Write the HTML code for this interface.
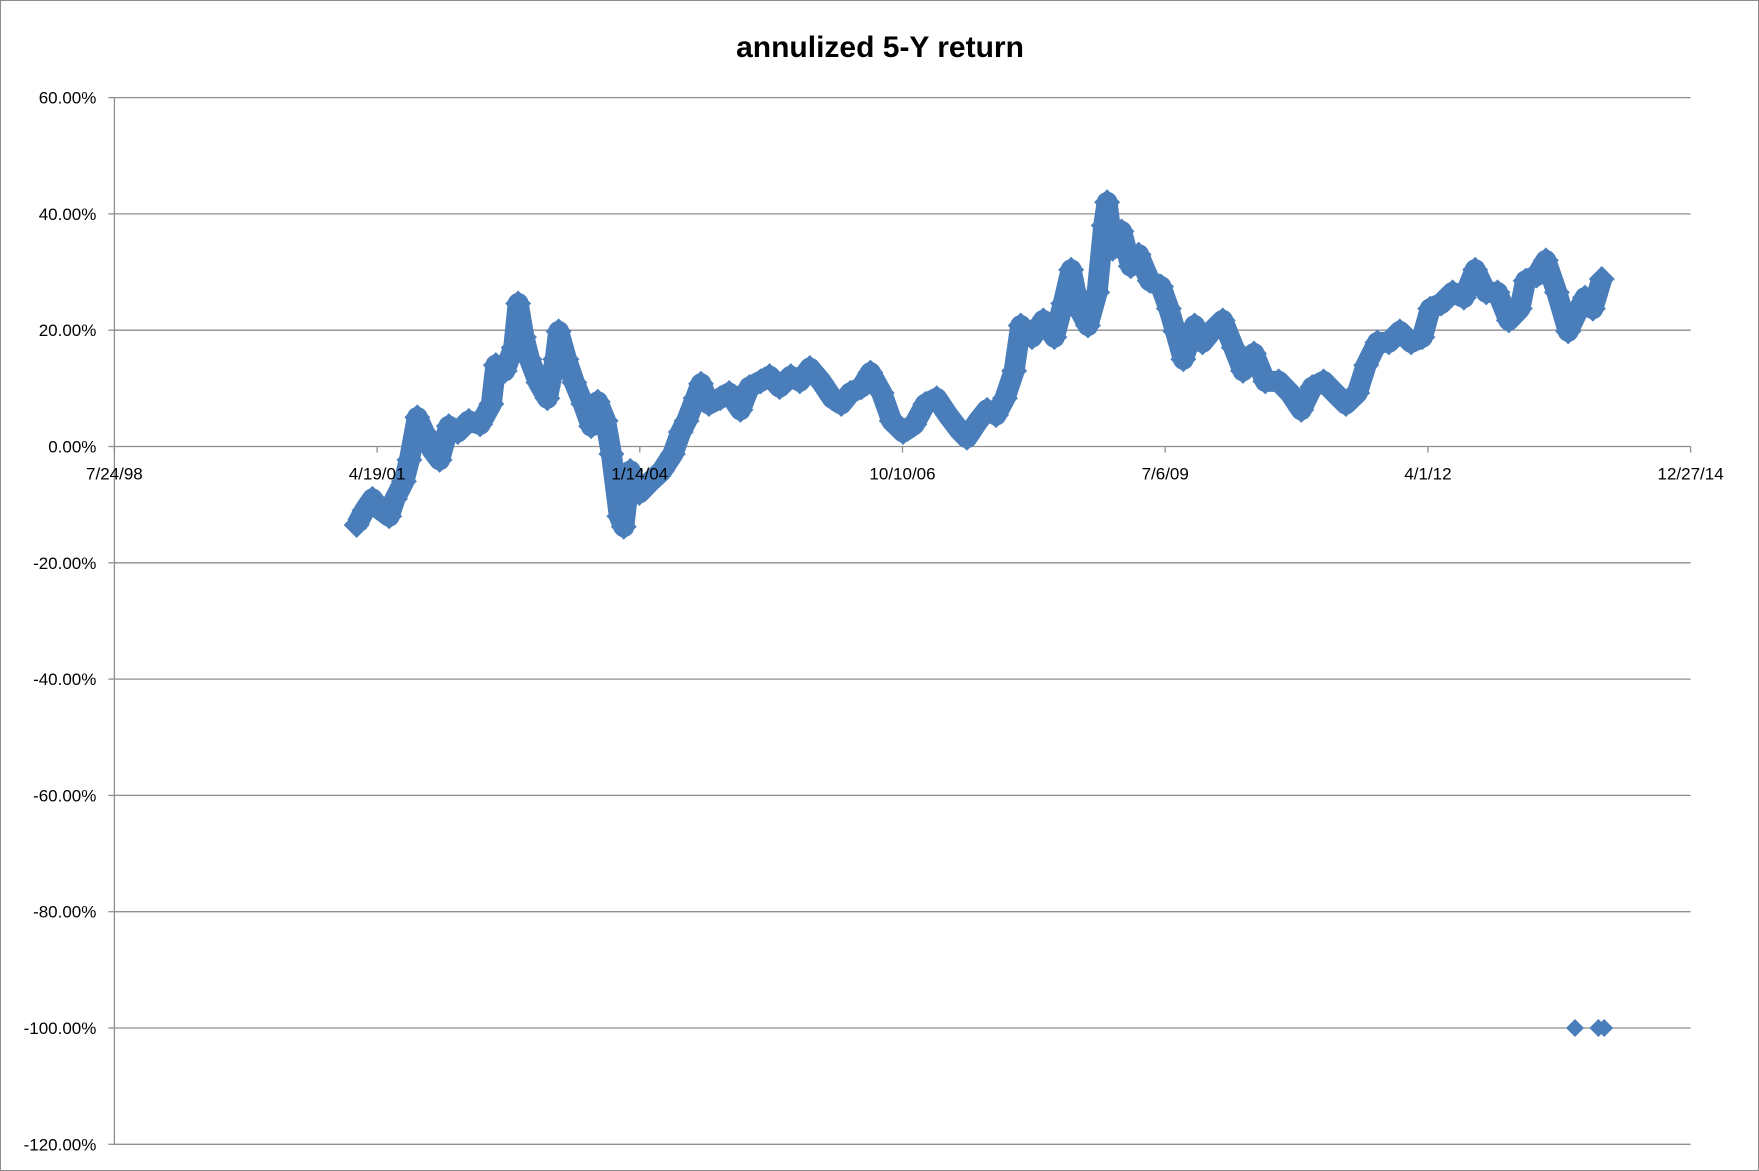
<!DOCTYPE html>
<html><head><meta charset="utf-8"><style>
html,body{margin:0;padding:0;background:#fff}
svg{display:block}
text{font-family:"Liberation Sans",sans-serif;fill:#000}
</style></head><body>
<svg id="chart" width="1759" height="1171" viewBox="0 0 1759 1171" xmlns="http://www.w3.org/2000/svg">
<rect x="0.5" y="0.5" width="1758" height="1170" fill="#fff" stroke="#8c8c8c" stroke-width="1"/>
<text x="880" y="57" text-anchor="middle" font-size="30" font-weight="bold">annulized 5-Y return</text>
<g id="grid"></g>
<g id="series"></g>
<g id="axes"></g>
</svg>
<script>
const xBase = 36000;
const xTicks = [36000,37000,38000,39000,40000,41000,42000];
const xTickLabels = ["7/24/98","4/19/01","1/14/04","10/10/06","7/6/09","4/1/12","12/27/14"];
const yTicks = [60,40,20,0,-20,-40,-60,-80,-100,-120];
const yTickLabels = ["60.00%","40.00%","20.00%","0.00%","-20.00%","-40.00%","-60.00%","-80.00%","-100.00%","-120.00%"];
const dayOffset = [922,952,982,1016,1046,1068,1102,1123,1153,1179,1208,1238,1273,1307,1349,1392,1435,1452,1486,1520,1537,1559,1580,1614,1648,1678,1691,1721,1751,1785,1815,1840,1870,1892,1922,1939,1964,1998,2041,2084,2126,2156,2178,2212,2233,2263,2306,2340,2383,2417,2460,2494,2532,2575,2609,2647,2690,2733,2767,2801,2844,2878,2921,2959,3002,3045,3087,3130,3173,3215,3245,3288,3322,3356,3390,3425,3450,3493,3536,3578,3612,3642,3672,3706,3741,3766,3779,3800,3834,3869,3899,3941,3984,4014,4039,4069,4112,4142,4176,4219,4261,4296,4338,4381,4432,4475,4518,4560,4603,4646,4688,4731,4765,4808,4851,4893,4936,4979,5009,5051,5094,5137,5180,5222,5265,5308,5350,5372,5414,5449,5491,5534,5564,5598,5628,5662];
const returnPct = [-13.5,-11,-9,-11,-12,-9,-6,-2.3,5,2.5,-0.5,-2.3,3.5,2.5,4.4,3.8,7.3,14,13,17,24.6,18.8,15,11,8.3,15,19.8,15,11,7.3,3.5,7.7,4.4,-1.3,-12,-13.8,-4.2,-8,-6,-4.2,-1.3,2.5,4.4,8.3,10.8,7.3,8.3,9.2,6.3,10.2,11.2,12.1,10.2,12.1,11.2,13.5,11.2,8.3,7.3,9.2,10.2,12.7,9.2,4.4,2.5,3.8,7.3,8.3,5.4,2.9,1.5,4.4,6.3,5.4,8.3,13,20.8,18.8,21.7,18.8,24.6,30.4,23.7,20.8,26.5,38,42,34,37,31,33,28.5,27.5,23.7,19.8,15,20.8,17.9,19.8,21.7,17,13,16,11.2,11.2,9.2,6.3,10.2,11.2,9.2,7.3,9.2,14,17.9,17.9,19.8,17.9,18.8,23.7,24.6,26.5,25.6,30.4,26.5,26.5,21.7,23.7,28.5,29.4,32,26.5,19.8,22.7,25.6,23.7,28.8];
const outlierOffset = [5560,5649,5671];
const outlierPct = [-100,-100,-100];

const L=114.4,R=1690.6,T=97.6,B=1144.3;
const X=d=>L+(d-36000)/6000*(R-L);
const Y=v=>T+(60-v)/180*(B-T);
const NS="http://www.w3.org/2000/svg";
function mk(tag,parent){const e=document.createElementNS(NS,tag);parent.appendChild(e);return e;}
const grid=document.getElementById('grid'),axes=document.getElementById('axes'),series=document.getElementById('series');

yTicks.forEach((v,i)=>{
  const g=mk('line',grid);
  
  
  g.setAttribute('x1',L);g.setAttribute('x2',R);g.setAttribute('y1',Y(v));g.setAttribute('y2',Y(v));
  g.setAttribute('stroke','#8e8e8e');g.setAttribute('stroke-width','1.3');
  const tk=mk('line',grid);
  
  
  tk.setAttribute('x1',L-6);tk.setAttribute('x2',L);tk.setAttribute('y1',Y(v));tk.setAttribute('y2',Y(v));
  tk.setAttribute('stroke','#8e8e8e');tk.setAttribute('stroke-width','1.3');
  const t=mk('text',axes);
  
  
  t.setAttribute('x',L-18);t.setAttribute('y',Y(v)+6);t.setAttribute('text-anchor','end');t.setAttribute('font-size','17');
  t.textContent=yTickLabels[i];
});
const ya=mk('line',grid);


ya.setAttribute('x1',L);ya.setAttribute('x2',L);ya.setAttribute('y1',T);ya.setAttribute('y2',B);
ya.setAttribute('stroke','#8e8e8e');ya.setAttribute('stroke-width','1.3');
xTicks.forEach((d,i)=>{
  const tk=mk('line',grid);
  
  
  tk.setAttribute('x1',X(d));tk.setAttribute('x2',X(d));tk.setAttribute('y1',Y(0));tk.setAttribute('y2',Y(0)+6);
  tk.setAttribute('stroke','#8e8e8e');tk.setAttribute('stroke-width','1.3');
  const t=mk('text',axes);
  
  
  t.setAttribute('x',X(d));t.setAttribute('y',Y(0)+33);t.setAttribute('text-anchor','middle');t.setAttribute('font-size','17');
  t.textContent=xTickLabels[i];
});

const col='#4a7ebb';
const pts=dayOffset.map((d,i)=>[X(xBase+d),Y(returnPct[i])]);
const pl=mk('polyline',series);


pl.setAttribute('points',pts.map(p=>p.join(',')).join(' '));
pl.setAttribute('fill','none');pl.setAttribute('stroke',col);pl.setAttribute('stroke-width','21');pl.setAttribute('stroke-linejoin','round');
function diamond(x,y,s,name){
  const p=mk('polygon',series);
  
  
  p.setAttribute('points',`${x},${y-s} ${x+s},${y} ${x},${y+s} ${x-s},${y}`);
  p.setAttribute('fill',col);
}
pts.forEach(p=>diamond(p[0],p[1],13,'data-point'));
outlierOffset.forEach((d,i)=>diamond(X(xBase+d),Y(outlierPct[i]),9,'outlier-point'));
</script>
</body></html>
